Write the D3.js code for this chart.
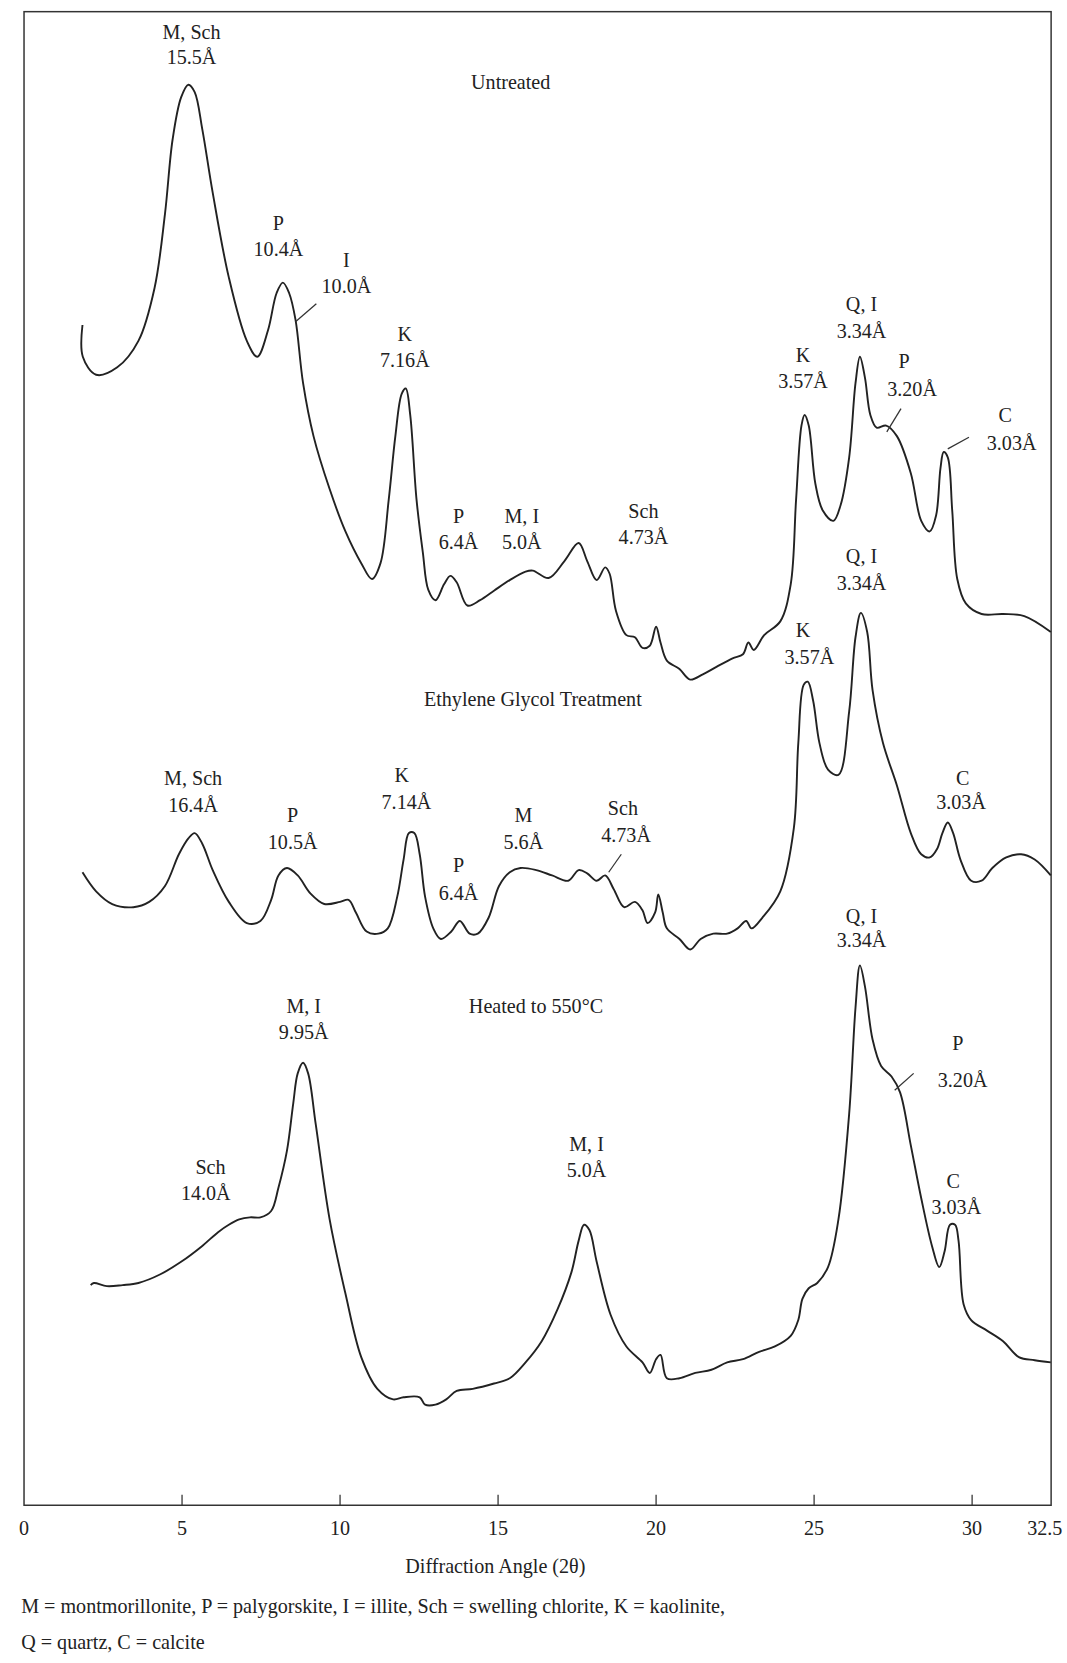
<!DOCTYPE html>
<html>
<head>
<meta charset="utf-8">
<script src="https://cdn.jsdelivr.net/npm/d3@7"></script>
<style>
  body { margin: 0; background: #fff; }
  text { font-family: "Liberation Serif", "DejaVu Serif", serif; fill: #222; }
</style>
</head>
<body>
<svg id="chart" width="1067" height="1663" viewBox="0 0 1008 1571"></svg>
<script>
// 2θ (degrees) and intensity (arbitrary units, offset traces as printed)
const untreatedAngle = [1.85, 1.86, 2.28, 2.95, 3.62, 4.13, 4.46, 4.70, 4.97, 5.20, 5.40, 5.64, 5.97, 6.48, 7.05, 7.38, 7.72, 7.99, 8.19, 8.39, 8.59, 8.83, 9.16, 9.67, 10.17, 10.67, 11.01, 11.28, 11.54, 11.75, 11.95, 12.08, 12.22, 12.42, 12.62, 12.79, 13.02, 13.29, 13.49, 13.69, 14.03, 14.43, 14.87, 15.37, 15.87, 16.10, 16.60, 17.10, 17.55, 17.82, 18.12, 18.39, 18.53, 18.73, 19.06, 19.33, 19.57, 19.80, 20.00, 20.14, 20.34, 20.74, 21.08, 21.48, 21.91, 22.42, 22.75, 22.92, 23.09, 23.42, 23.93, 24.26, 24.43, 24.60, 24.70, 24.83, 25.04, 25.27, 25.61, 25.84, 26.11, 26.31, 26.45, 26.61, 26.78, 26.98, 27.28, 27.62, 28.06, 28.39, 28.66, 28.86, 29.00, 29.10, 29.23, 29.37, 29.53, 29.80, 30.30, 30.98, 31.65, 32.49];
const untreatedIntensity = [1113, 1083, 1066, 1073, 1098, 1148, 1218, 1288, 1328, 1340, 1333, 1298, 1238, 1158, 1098, 1083, 1108, 1143, 1153, 1143, 1118, 1058, 1008, 958, 918, 888, 873, 888, 948, 1008, 1048, 1053, 1028, 948, 898, 863, 853, 868, 876, 870, 848, 853, 862, 872, 880, 881, 874, 890, 907, 890, 872, 884, 878, 843, 820, 818, 808, 810, 828, 813, 796, 788, 778, 783, 790, 798, 802, 813, 806, 820, 833, 868, 948, 1018, 1028, 1018, 963, 938, 928, 943, 988, 1058, 1083, 1063, 1028, 1016, 1018, 1008, 973, 928, 918, 933, 978, 993, 988, 938, 873, 850, 840, 840, 838, 823];

const glycolAngle = [1.85, 2.28, 2.79, 3.46, 3.96, 4.46, 4.90, 5.20, 5.40, 5.64, 5.97, 6.48, 7.05, 7.48, 7.82, 8.05, 8.32, 8.66, 9.06, 9.50, 10.00, 10.27, 10.50, 10.84, 11.21, 11.51, 11.81, 12.01, 12.18, 12.35, 12.52, 12.69, 12.95, 13.19, 13.52, 13.79, 14.10, 14.36, 14.70, 15.03, 15.37, 15.71, 16.21, 16.71, 17.22, 17.55, 17.82, 18.12, 18.39, 18.66, 18.99, 19.33, 19.57, 19.73, 19.97, 20.07, 20.21, 20.34, 20.74, 21.08, 21.41, 21.81, 22.25, 22.58, 22.85, 23.02, 23.36, 23.93, 24.36, 24.50, 24.67, 24.80, 24.97, 25.17, 25.44, 25.77, 26.11, 26.31, 26.48, 26.68, 26.85, 27.18, 27.62, 28.06, 28.39, 28.66, 28.89, 29.06, 29.23, 29.40, 29.63, 29.97, 30.30, 30.64, 31.08, 31.55, 31.98, 32.49];
const glycolIntensity = [596, 578, 566, 563, 568, 583, 613, 628, 633, 623, 598, 568, 548, 550, 570, 593, 600, 593, 576, 566, 568, 570, 558, 540, 538, 543, 573, 608, 633, 633, 613, 573, 543, 533, 540, 550, 538, 538, 553, 583, 596, 600, 598, 593, 588, 598, 595, 588, 593, 580, 563, 568, 560, 548, 558, 575, 558, 543, 533, 523, 533, 538, 538, 543, 550, 543, 553, 578, 638, 718, 773, 776, 758, 718, 693, 688, 748, 818, 841, 823, 768, 718, 678, 633, 613, 610, 618, 633, 643, 633, 608, 588, 588, 600, 610, 613, 608, 593];

const heatedAngle = [2.11, 2.21, 2.62, 3.12, 3.62, 4.30, 4.97, 5.64, 6.14, 6.48, 6.81, 7.15, 7.48, 7.82, 8.05, 8.32, 8.52, 8.66, 8.83, 8.99, 9.23, 9.67, 10.17, 10.67, 11.18, 11.68, 12.01, 12.52, 12.69, 13.02, 13.36, 13.69, 14.20, 14.87, 15.37, 15.87, 16.38, 16.88, 17.32, 17.55, 17.72, 17.89, 18.12, 18.56, 19.06, 19.57, 19.80, 20.00, 20.14, 20.34, 20.74, 21.24, 21.75, 22.25, 22.75, 23.26, 23.76, 24.26, 24.50, 24.63, 24.83, 25.10, 25.44, 25.77, 26.11, 26.31, 26.45, 26.61, 26.85, 27.12, 27.45, 27.72, 28.06, 28.39, 28.73, 28.96, 29.13, 29.30, 29.46, 29.57, 29.73, 29.97, 30.47, 30.98, 31.48, 31.98, 32.49];
const heatedIntensity = [206, 208, 205, 206, 208, 216, 228, 243, 256, 263, 268, 270, 270, 276, 298, 333, 378, 406, 416, 406, 358, 268, 198, 138, 108, 98, 100, 100, 93, 93, 98, 106, 108, 113, 118, 133, 153, 183, 218, 248, 263, 258, 228, 178, 148, 133, 123, 136, 140, 118, 118, 123, 126, 133, 136, 143, 148, 158, 173, 193, 203, 208, 223, 268, 368, 468, 508, 488, 438, 413, 403, 388, 338, 288, 243, 223, 238, 263, 263, 248, 188, 173, 163, 153, 138, 135, 133];

// peak labels: [2θ, intensity of text baseline, text]
const peakLabels = [
  [5.3, 1383, 'M, Sch'], [5.3, 1360, '15.5Å'],
  [8.05, 1203, 'P'], [8.05, 1178, '10.4Å'],
  [10.2, 1168, 'I'], [10.2, 1143, '10.0Å'],
  [12.05, 1098, 'K'], [12.05, 1073, '7.16Å'],
  [13.75, 926, 'P'], [13.75, 901, '6.4Å'],
  [15.75, 926, 'M, I'], [15.75, 901, '5.0Å'],
  [19.6, 931, 'Sch'], [19.6, 906, '4.73Å'],
  [24.65, 1078, 'K'], [24.65, 1053, '3.57Å'],
  [26.5, 1126, 'Q, I'], [26.5, 1101, '3.34Å'],
  [27.85, 1072, 'P'], [28.1, 1046, '3.20Å'],
  [31.05, 1021, 'C'], [31.25, 995, '3.03Å'],
  [26.5, 888, 'Q, I'], [26.5, 863, '3.34Å'],
  [24.65, 818, 'K'], [24.85, 793, '3.57Å'],
  [29.7, 678, 'C'], [29.65, 656, '3.03Å'],
  [5.35, 678, 'M, Sch'], [5.35, 653, '16.4Å'],
  [11.95, 681, 'K'], [12.1, 656, '7.14Å'],
  [8.5, 643, 'P'], [8.5, 618, '10.5Å'],
  [15.8, 643, 'M'], [15.8, 618, '5.6Å'],
  [18.95, 650, 'Sch'], [19.05, 625, '4.73Å'],
  [13.75, 596, 'P'], [13.75, 570, '6.4Å'],
  [26.5, 548, 'Q, I'], [26.5, 525, '3.34Å'],
  [8.85, 463, 'M, I'], [8.85, 438, '9.95Å'],
  [29.55, 428, 'P'], [29.7, 393, '3.20Å'],
  [17.8, 333, 'M, I'], [17.8, 308, '5.0Å'],
  [5.9, 311, 'Sch'], [5.75, 286, '14.0Å'],
  [29.4, 298, 'C'], [29.5, 273, '3.03Å']
];
const traceTitles = [
  [15.4, 1336, 'Untreated'],
  [16.1, 753, 'Ethylene Glycol Treatment'],
  [16.2, 463, 'Heated to 550°C']
];
// leader lines: [2θ1, i1, 2θ2, i2]
const leaders = [
  [8.59, 1116, 9.25, 1133], [27.3, 1012, 27.75, 1034], [29.23, 996, 29.9, 1007],
  [18.50, 596, 18.90, 613], [27.55, 390, 28.15, 406]
];
const xTicks = [0, 5, 10, 15, 20, 25, 30, 32.5];

const svg = d3.select('#chart');
const x = d3.scaleLinear().domain([0, 32.5]).range([22.7, 993]);
const y = d3.scaleLinear().domain([0, 1408]).range([1420, 12]);

// Frame
svg.append('rect').attr('x', 22.7).attr('y', 11).attr('width', 993 - 22.7).attr('height', 1422 - 11)
  .attr('fill', 'none').attr('stroke', '#333').attr('stroke-width', 1.4);

// Axis ticks (inside, pointing up)
svg.append('g').selectAll('line').data(xTicks.slice(1, -1)).enter().append('line')
  .attr('x1', (d) => x(d)).attr('x2', (d) => x(d))
  .attr('y1', 1422).attr('y2', 1412).attr('stroke', '#333').attr('stroke-width', 1.2);
svg.append('g').selectAll('text').data(xTicks).enter().append('text')
  .attr('x', (d) => x(d) + (d === 32.5 ? -6 : 0)).attr('y', 1450)
  .attr('text-anchor', 'middle').attr('font-size', 19)
  .text((d) => d);
svg.append('text').attr('x', 468).attr('y', 1486).attr('text-anchor', 'middle')
  .attr('font-size', 19).text('Diffraction Angle (2θ)');
svg.append('text').attr('x', 20).attr('y', 1524).attr('font-size', 19)
  .text('M = montmorillonite, P = palygorskite, I = illite, Sch = swelling chlorite, K = kaolinite,');
svg.append('text').attr('x', 20).attr('y', 1558).attr('font-size', 19)
  .text('Q = quartz, C = calcite');

// Traces
const line = d3.line().x((d) => x(d[0])).y((d) => y(d[1])).curve(d3.curveCatmullRom.alpha(0.5));
[[untreatedAngle, untreatedIntensity], [glycolAngle, glycolIntensity], [heatedAngle, heatedIntensity]].forEach(
  ([angles, values]) => {
    svg.append('path').datum(angles.map((a, i) => [a, values[i]]))
      .attr('d', line).attr('fill', 'none').attr('stroke', '#222').attr('stroke-width', 1.8);
  },
);

// Leader lines
svg.append('g').selectAll('line').data(leaders).enter().append('line')
  .attr('x1', (d) => x(d[0])).attr('y1', (d) => y(d[1]))
  .attr('x2', (d) => x(d[2])).attr('y2', (d) => y(d[3]))
  .attr('stroke', '#333').attr('stroke-width', 1.2);

// Labels
svg.append('g').selectAll('text').data(peakLabels.concat(traceTitles)).enter().append('text')
  .attr('x', (d) => x(d[0])).attr('y', (d) => y(d[1]))
  .attr('text-anchor', 'middle').attr('font-size', 19)
  .text((d) => d[2]);
</script>
</body>
</html>
